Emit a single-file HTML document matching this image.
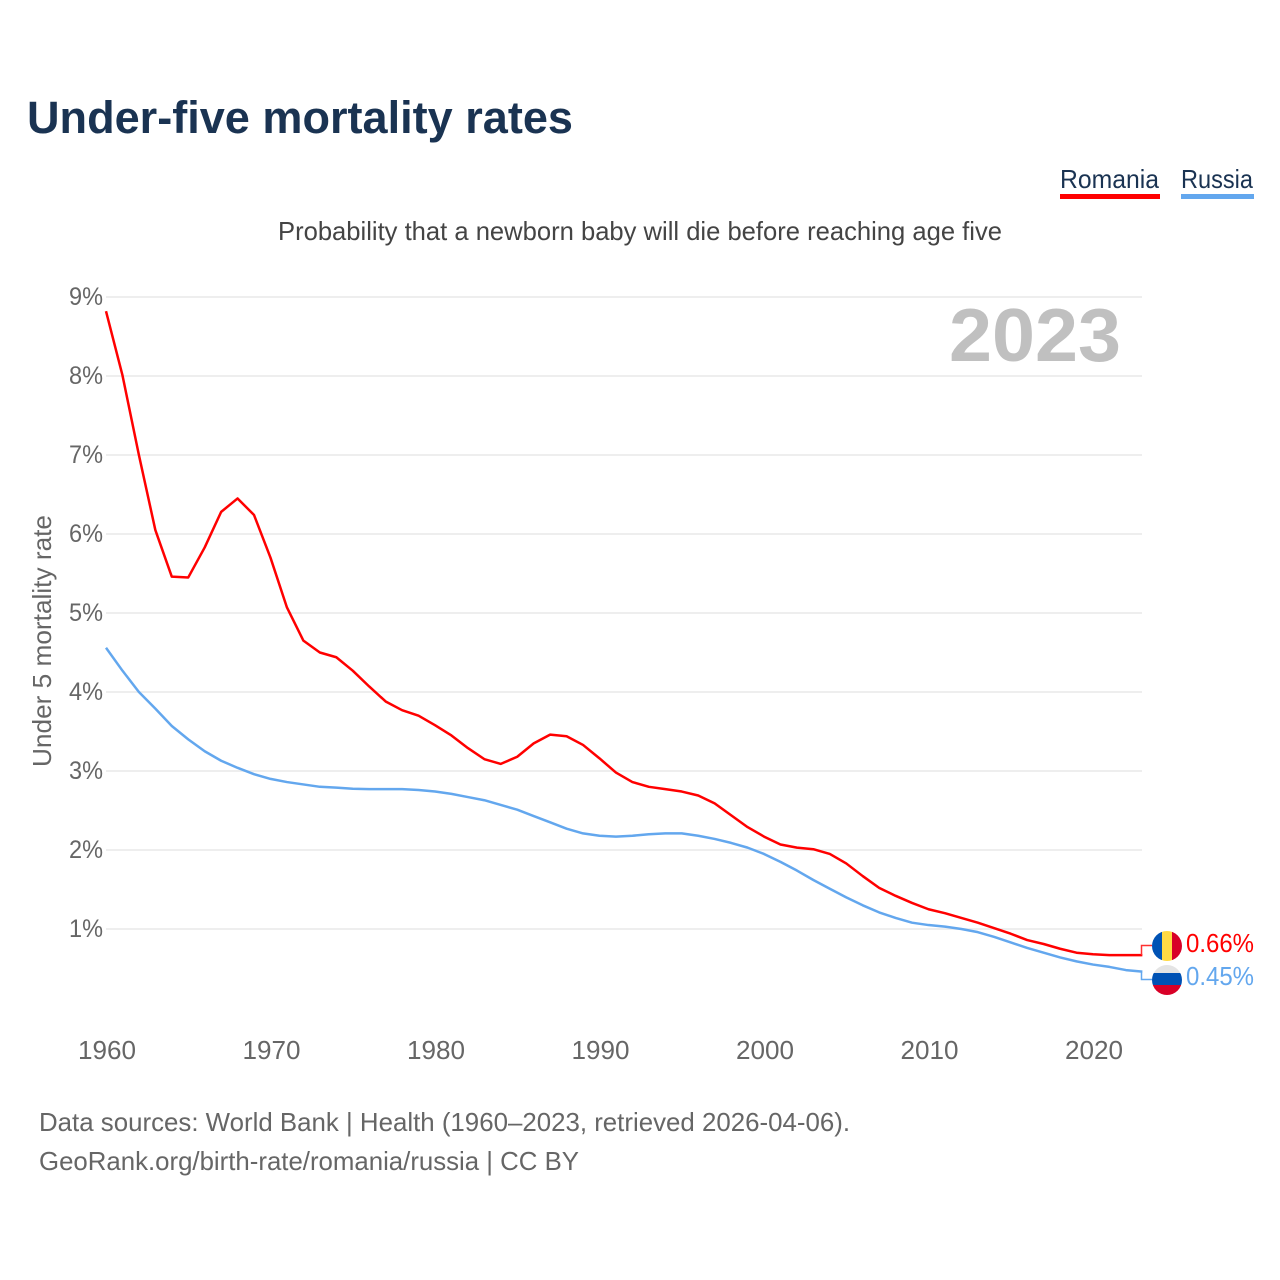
<!DOCTYPE html>
<html lang="en">
<head>
<meta charset="utf-8">
<title>Under-five mortality rates</title>
<style>
html,body{margin:0;padding:0;background:#fff;}
svg{display:block;}
text{font-family:"Liberation Sans",sans-serif;}
</style>
</head>
<body>
<svg id="chart" xmlns="http://www.w3.org/2000/svg" width="1280" height="1280" viewBox="0 0 1280 1280">
  <rect width="1280" height="1280" fill="#ffffff"/>
  <text x="27" y="133" font-size="45" font-weight="700" fill="#1a3352" textLength="546" lengthAdjust="spacingAndGlyphs">Under-five mortality rates</text>
  <g>
    <text x="1060" y="188" font-size="26" fill="#1a3352" textLength="99" lengthAdjust="spacingAndGlyphs">Romania</text>
    <rect x="1060" y="194" width="100" height="5" fill="#ff0000"/>
  </g>
  <g>
    <text x="1181" y="188" font-size="26" fill="#1a3352" textLength="72" lengthAdjust="spacingAndGlyphs">Russia</text>
    <rect x="1181" y="194" width="73" height="5" fill="#63a7ee"/>
  </g>
  <text x="278" y="240" font-size="26" fill="#444444" textLength="724" lengthAdjust="spacingAndGlyphs">Probability that a newborn baby will die before reaching age five</text>
  <g id="grid"></g>
  <g id="yticks"></g>
  <g id="xticks"></g>
  <text transform="translate(51,767) rotate(-90)" x="0" y="0" font-size="26" fill="#666666" textLength="252" lengthAdjust="spacingAndGlyphs">Under 5 mortality rate</text>
  <text x="949" y="361" font-size="75" font-weight="700" fill="#c0c0c0" textLength="172" lengthAdjust="spacingAndGlyphs">2023</text>
  <g id="series"></g>
  <g>
    <clipPath id="clip-ro"><circle cx="1167" cy="946" r="15"/></clipPath>
    <g clip-path="url(#clip-ro)">
      <rect x="1152" y="931" width="10" height="30" fill="#0052b4"/>
      <rect x="1162" y="931" width="10" height="30" fill="#ffda44"/>
      <rect x="1172" y="931" width="10" height="30" fill="#d80027"/>
    </g>
  </g>
  <g>
    <clipPath id="clip-ru"><circle cx="1167" cy="980" r="15"/></clipPath>
    <g clip-path="url(#clip-ru)">
      <rect x="1152" y="965" width="30" height="8" fill="#e4e4e4"/>
      <rect x="1152" y="973" width="30" height="12" fill="#0052b4"/>
      <rect x="1152" y="985" width="30" height="10" fill="#d80027"/>
    </g>
  </g>
  <text x="1186" y="952" font-size="26" fill="#ff0000" textLength="68" lengthAdjust="spacingAndGlyphs">0.66%</text>
  <text x="1186" y="985" font-size="26" fill="#63a7ee" textLength="68" lengthAdjust="spacingAndGlyphs">0.45%</text>
  <text x="39" y="1131" font-size="26" fill="#666666" textLength="811" lengthAdjust="spacingAndGlyphs">Data sources: World Bank | Health (1960–2023, retrieved 2026-04-06).</text>
  <text x="39" y="1170" font-size="26" fill="#666666" textLength="540" lengthAdjust="spacingAndGlyphs">GeoRank.org/birth-rate/romania/russia | CC BY</text>
</svg>
<script>
const startYear = 1960;
const yTicks = [1, 2, 3, 4, 5, 6, 7, 8, 9];
const xTicks = [1960, 1970, 1980, 1990, 2000, 2010, 2020];
const romania = [8.82,8.01,7.0,6.05,5.46,5.45,5.83,6.28,6.45,6.24,5.7,5.07,4.65,4.5,4.44,4.27,4.07,3.88,3.77,3.7,3.58,3.45,3.29,3.15,3.09,3.18,3.35,3.46,3.44,3.33,3.16,2.98,2.86,2.8,2.77,2.74,2.69,2.59,2.44,2.29,2.17,2.07,2.03,2.01,1.95,1.83,1.67,1.52,1.42,1.33,1.25,1.2,1.14,1.08,1.01,0.94,0.86,0.81,0.75,0.7,0.68,0.67,0.67,0.67];
const russia = [4.56,4.27,4.0,3.79,3.57,3.4,3.25,3.13,3.04,2.96,2.9,2.86,2.83,2.8,2.79,2.775,2.77,2.77,2.77,2.76,2.74,2.71,2.67,2.63,2.57,2.51,2.43,2.35,2.27,2.21,2.18,2.17,2.18,2.2,2.21,2.21,2.18,2.14,2.09,2.03,1.95,1.85,1.74,1.62,1.51,1.4,1.3,1.21,1.14,1.08,1.05,1.03,1.0,0.96,0.9,0.83,0.76,0.7,0.64,0.59,0.55,0.52,0.48,0.46];

const NS = 'http://www.w3.org/2000/svg';
function xScale(year) { return 106 + (year - 1960) * 16.45; }
function yScale(v) { return 1008 - v * 79; }
function make(tag, parent, attrs) {
  const el = document.createElementNS(NS, tag);
  for (const k in attrs) el.setAttribute(k, attrs[k]);
  parent.appendChild(el);
  return el;
}
const grid = document.getElementById('grid');
const yG = document.getElementById('yticks');
const xG = document.getElementById('xticks');
const seriesG = document.getElementById('series');

yTicks.forEach(function (t) {
  const line = make('line', grid, { x1: 106, x2: 1142, y1: yScale(t), y2: yScale(t), stroke: '#eeeeee', 'stroke-width': 2 });
  
  
  const label = make('text', yG, { x: 103, y: yScale(t) + 8, 'font-size': 25, fill: '#666666', 'text-anchor': 'end', textLength: 34, lengthAdjust: 'spacingAndGlyphs' });
  
  
  label.textContent = t + '%';
});

xTicks.forEach(function (t) {
  const label = make('text', xG, { x: xScale(t) + 1, y: 1059, 'font-size': 26, fill: '#666666', 'text-anchor': 'middle', textLength: 58, lengthAdjust: 'spacingAndGlyphs' });
  
  
  label.textContent = t;
});

function linePath(values) {
  return values.map(function (v, i) {
    return (i ? 'L' : 'M') + xScale(startYear + i).toFixed(2) + ' ' + yScale(v).toFixed(2);
  }).join(' ');
}

const russiaLine = make('path', seriesG, { d: linePath(russia), fill: 'none', stroke: '#63a7ee', 'stroke-width': 2.5, 'stroke-linejoin': 'round' });


const romaniaLine = make('path', seriesG, { d: linePath(romania), fill: 'none', stroke: '#ff0000', 'stroke-width': 2.5, 'stroke-linejoin': 'round' });



const connRo = make('path', seriesG, { d: 'M1141.5 ' + yScale(romania[romania.length - 1]) + ' L1141.5 945.5 L1152 945.5', fill: 'none', stroke: '#ff3030', 'stroke-width': 1.5 });


const connRu = make('path', seriesG, { d: 'M1141.5 ' + yScale(russia[russia.length - 1]) + ' L1141.5 979.5 L1152 979.5', fill: 'none', stroke: '#63a7ee', 'stroke-width': 1.5 });


</script>
</body>
</html>
